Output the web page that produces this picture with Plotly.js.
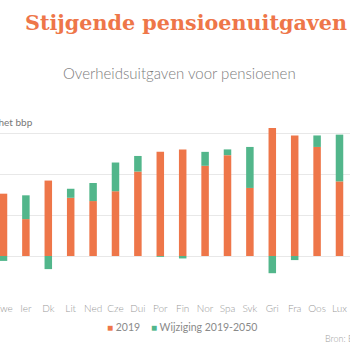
<!DOCTYPE html>
<html>
<head>
<meta charset="utf-8">
<script src="https://cdn.plot.ly/plotly-3.0.1.min.js"></script>
<style>
html,body{margin:0;padding:0;background:#fff;}
#chart{width:350px;height:350px;}
</style>
</head>
<body>
<div id="chart"></div>
<script>
const countries = ["Zwe","Ier","Dk","Lit","Ned","Cze","Dui","Por","Fin","Nor","Spa","Svk","Gri","Fra","Oos","Lux"];
const values2019 = [7.6, 4.5, 9.2, 7.1, 6.7, 7.9, 10.3, 12.7, 13.0, 11.0, 12.3, 8.3, 15.6, 14.7, 13.3, 9.1];
const change2019_2050 = [-0.6, 2.9, -1.6, 1.1, 2.2, 3.5, 1.9, -0.1, -0.3, 1.7, 0.7, 5.0, -2.1, -0.5, 1.4, 5.7];
const seriesNames = ["2019", "Wijziging 2019-2050"];
const titleText = "Stijgende pensioenuitgaven";
const subtitleText = "Overheidsuitgaven voor pensioenen";
const unitText = "% van het bbp";
const sourceText = "Bron: Europese Commissie";

const ORANGE = "#EE7649";
const GREEN = "#52B68B";
const W = 350, H = 350, T = 92, B = 53;
const PH = H - T - B;
const px = x => x / W;
const py = y => (H - B - y) / PH;

const traces = [
  {type: "bar", name: seriesNames[0], x: countries, y: values2019,
   marker: {color: ORANGE}, showlegend: false, hoverinfo: "x+y+name"},
  {type: "bar", name: seriesNames[1], x: countries, y: change2019_2050,
   marker: {color: GREEN}, showlegend: false, hoverinfo: "x+y+name"}
];

const sq = c => '<span style="color:' + c + ';font-size:10px">■</span>';

const layout = {
  width: W, height: H,
  margin: {l: 0, r: 0, t: T, b: B, pad: 0},
  paper_bgcolor: "#fff", plot_bgcolor: "#fff",
  barmode: "relative",
  bargap: 0.665,
  title: {text: titleText, xref: "container", yref: "container",
          x: px(25), xanchor: "left", y: 1 - 23 / H, yanchor: "middle",
          font: {family: "DejaVu Serif", size: 20.7, weight: 700, color: ORANGE}},
  xaxis: {type: "category", range: [-0.156, 15.469], showgrid: false,
          zeroline: false, showline: false, ticks: "", ticklabelstandoff: 4,
          tickfont: {family: "Lato", size: 10, weight: 300, color: "#999"}, fixedrange: true},
  yaxis: {range: [-5.001, 20.001], dtick: 5, tick0: 0, showticklabels: false,
          gridcolor: "#e8e8e8", gridwidth: 1, zeroline: true, zerolinecolor: "#e8e8e8",
          zerolinewidth: 1, ticks: "", fixedrange: true},
  font: {family: "Lato", color: "#888"},
  annotations: [
    {text: subtitleText, xref: "paper", yref: "paper", x: px(180), y: py(73),
     xanchor: "center", yanchor: "middle", showarrow: false,
     font: {family: "Lato", size: 15, weight: 300, color: "#7d7d7d"}},
    {text: unitText, xref: "paper", yref: "paper", x: px(35), y: py(122),
     xanchor: "right", yanchor: "middle", showarrow: false,
     font: {family: "Lato", size: 10, color: "#777"}},
    {text: sq(ORANGE) + ' ' + seriesNames[0],
     xref: "paper", yref: "paper", x: px(105), y: py(327),
     xanchor: "left", yanchor: "middle", showarrow: false,
     font: {family: "Lato", size: 10.5, color: "#8a8a8a"}},
    {text: sq(GREEN) + ' ' + seriesNames[1],
     xref: "paper", yref: "paper", x: px(149), y: py(327),
     xanchor: "left", yanchor: "middle", showarrow: false,
     font: {family: "Lato", size: 10.5, color: "#8a8a8a"}},
    {text: sourceText, xref: "paper", yref: "paper", x: px(323), y: py(338),
     xanchor: "left", yanchor: "middle", showarrow: false,
     font: {family: "Lato", size: 9, weight: 300, color: "#a0a0a0"}}
  ]
};

Plotly.newPlot("chart", traces, layout, {displayModeBar: false, staticPlot: true});
</script>
</body>
</html>
